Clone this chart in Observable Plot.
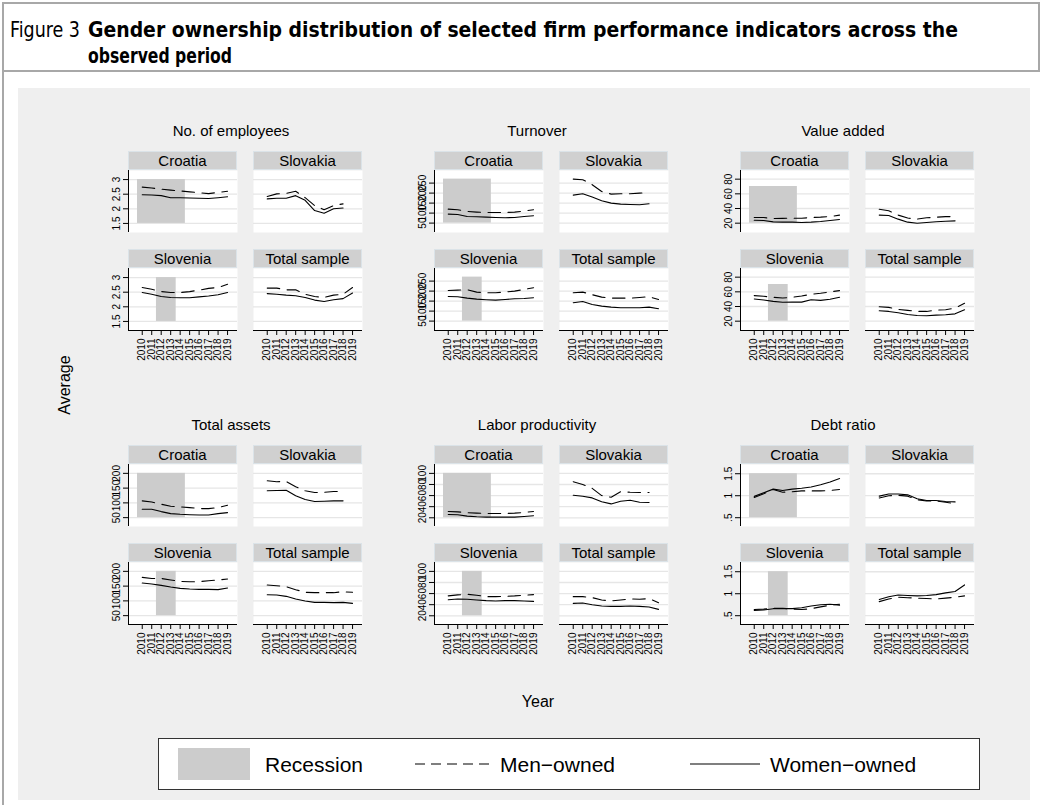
<!DOCTYPE html>
<html>
<head>
<meta charset="utf-8">
<script src="https://cdn.jsdelivr.net/npm/d3@7"></script>
<script src="https://cdn.jsdelivr.net/npm/@observablehq/plot@0.6"></script>
<style>
  body { margin: 0; background: #ffffff; }
  #page { position: relative; width: 1042px; height: 805px; overflow: hidden; background: #ffffff;
          font-family: "Liberation Sans", Arial, sans-serif; color: #000; }
  .abs { position: absolute; }
  .strip { position: absolute; box-sizing: border-box; background: #d0d0d0; border: 1px solid #dbe3e8;
           font-size: 15px; line-height: 17px; text-align: center; color: #000; white-space: nowrap; }
  .gtitle { position: absolute; font-size: 15px; white-space: nowrap; transform: translate(-50%, -50%); }
</style>
</head>
<body>
<div id="page"></div>
<script>
// ---------------- DATA ----------------
const years = [2010, 2011, 2012, 2013, 2014, 2015, 2016, 2017, 2018, 2019];
const countries = ["Croatia", "Slovakia", "Slovenia", "Total sample"];
const indicators = ["No. of employees", "Turnover", "Value added", "Total assets", "Labor productivity", "Debt ratio"];

// values per country (Croatia, Slovakia, Slovenia, Total sample)
const employeesMen = [
  [2.74, 2.71, 2.67, 2.64, 2.61, 2.58, 2.55, 2.52, 2.56, 2.60],
  [2.42, 2.51, 2.53, 2.60, 2.38, 2.11, 1.97, 2.11, 2.17],
  [2.66, 2.60, 2.52, 2.49, 2.49, 2.52, 2.57, 2.63, 2.66, 2.77],
  [2.64, 2.64, 2.58, 2.58, 2.43, 2.35, 2.32, 2.40, 2.43, 2.66]];
const employeesWomen = [
  [2.48, 2.47, 2.45, 2.38, 2.38, 2.37, 2.36, 2.35, 2.38, 2.41],
  [2.34, 2.36, 2.36, 2.45, 2.29, 1.94, 1.85, 2.00, 2.03],
  [2.49, 2.43, 2.35, 2.32, 2.31, 2.31, 2.34, 2.37, 2.41, 2.49],
  [2.45, 2.43, 2.40, 2.38, 2.32, 2.23, 2.18, 2.24, 2.28, 2.47]];

const turnoverMen = [
  [120, 117, 108, 105, 103, 103, 103, 105, 110, 117],
  [270, 267, 242, 208, 195, 197, 197, 200, 203],
  [203, 205, 207, 195, 192, 192, 195, 200, 208, 217],
  [192, 195, 182, 170, 165, 165, 165, 168, 172, 158]];
const turnoverWomen = [
  [95, 93, 83, 82, 80, 78, 77, 78, 83, 87],
  [190, 197, 180, 162, 150, 145, 143, 142, 147],
  [173, 172, 165, 160, 157, 155, 158, 162, 163, 167],
  [142, 148, 133, 125, 120, 117, 117, 117, 120, 112]];

const valueAddedMen = [
  [27.7, 27.7, 26.4, 26.6, 26.8, 26.8, 27.7, 28.2, 29, 31],
  [39, 37, 31, 27, 25.5, 27.3, 28.2, 29, 29],
  [54.8, 53.9, 52.5, 51.6, 52.5, 54.4, 56.7, 58, 60, 61.7],
  [39.7, 38.8, 36, 34.7, 33.3, 33.3, 35, 35.6, 37.9, 44.3]];
const valueAddedWomen = [
  [24, 23.6, 21.8, 21.4, 21.4, 20.9, 21.4, 22.3, 23.6, 25],
  [31, 30.5, 25.5, 21.4, 20, 21, 22, 22.7, 23.2],
  [50.3, 48.9, 47, 45.7, 46, 46, 49.3, 48.4, 49.8, 52.5],
  [34.2, 33.3, 31.5, 29.2, 27.8, 27.4, 28.3, 28.7, 30, 35.6]];

const assetsMen = [
  [106.8, 103, 95.5, 88.6, 86.4, 84, 80.7, 80.7, 84, 92],
  [175, 171.6, 172.7, 154.5, 141, 135, 136, 138.6, 138.6],
  [179.7, 176, 176, 170.7, 166, 165, 165, 168.4, 170.7, 174],
  [153.7, 151.5, 148, 138, 129, 127.8, 127.8, 127.8, 131, 129]];
const assetsWomen = [
  [78.4, 78.4, 70.5, 63.6, 61.4, 60, 59, 59, 63.6, 67],
  [141, 142, 143, 124, 111.4, 104.5, 105.7, 106.8, 106.8],
  [160.5, 157, 152.6, 147, 142.4, 140, 139, 139, 138, 143.6],
  [121, 120, 115.4, 106.3, 99.5, 95, 95, 94, 95, 91.6]];

const laborMen = [
  [31.3, 30.7, 29, 28.4, 27.8, 27.8, 27.8, 28.4, 29.6, 31.3],
  [85, 80, 73, 60, 57, 67, 66, 65.5, 65.5],
  [55.8, 57.6, 58.8, 57, 54.5, 54.5, 55, 55.8, 57, 58.2],
  [54.5, 54.5, 52.7, 48.5, 46.7, 48.5, 50.3, 49.7, 51, 43.6]];
const laborWomen = [
  [26, 25.4, 23, 21.8, 21.2, 21.2, 21.2, 21.2, 22.4, 23.6],
  [60.6, 58.8, 55.8, 49, 45, 49.8, 51.6, 48, 47.5],
  [49, 50.3, 49.7, 48.5, 47.3, 46.7, 47.3, 47.3, 46.7, 46],
  [42.4, 43, 40, 37.6, 37, 37, 37.6, 37, 35.8, 31.5]];

const debtMen = [
  [0.96, 1.045, 1.14, 1.08, 1.09, 1.11, 1.11, 1.11, 1.12, 1.14],
  [0.95, 1.0, 1.01, 0.99, 0.91, 0.88, 0.88, 0.85, 0.82],
  [0.64, 0.65, 0.67, 0.67, 0.65, 0.64, 0.66, 0.70, 0.74, 0.76],
  [0.82, 0.88, 0.92, 0.91, 0.90, 0.89, 0.88, 0.90, 0.92, 0.95]];
const debtWomen = [
  [0.985, 1.07, 1.15, 1.12, 1.15, 1.17, 1.20, 1.25, 1.31, 1.39],
  [0.99, 1.04, 1.04, 1.02, 0.93, 0.89, 0.89, 0.87, 0.86],
  [0.62, 0.63, 0.66, 0.66, 0.66, 0.68, 0.72, 0.75, 0.76, 0.74],
  [0.87, 0.93, 0.97, 0.96, 0.95, 0.96, 0.98, 1.02, 1.05, 1.20]];

// y tick values and labels per indicator
const employeesTicks = [1.5, 2, 2.5, 3];
const employeesLabels = ["1.5", "2", "2.5", "3"];
const turnoverTicks = [50, 100, 150, 200, 250];
const turnoverLabels = ["50", "100", "150", "200", "250"];
const valueAddedTicks = [20, 40, 60, 80];
const valueAddedLabels = ["20", "40", "60", "80"];
const assetsTicks = [50, 100, 150, 200];
const assetsLabels = ["50", "100", "150", "200"];
const laborTicks = [20, 40, 60, 80, 100];
const laborLabels = ["20", "40", "60", "80", "100"];
const debtTicks = [0.5, 1, 1.5];
const debtLabels = [".5", "1", "1.5"];

// y-axis ranges per indicator
const employeesRange = [1.19, 3.31];
const turnoverRange = [3, 313];
const valueAddedRange = [7.3, 91.8];
const assetsRange = [20, 230];
const laborRange = [4.3, 116];
const debtRange = [0.30, 1.71];

// recession shading: years per country (Croatia, Slovakia, Slovenia, Total sample)
const recessionStart = [2009.5, null, 2011.5, null];
const recessionEnd = [2014.55, null, 2013.58, null];
// recession shading heights per indicator
const employeesRecession = [1.5, 3];
const turnoverRecession = [50, 270];
const valueAddedRecession = [20, 70];
const assetsRecession = [50, 200];
const laborRecession = [20, 100];
const debtRecession = [0.5, 1.5];

const legendLabels = ["Recession", "Men\u2212owned", "Women\u2212owned"];

// ---------------- LAYOUT ----------------
const page = document.getElementById("page");
const groups = [
  {men: employeesMen, women: employeesWomen, ticks: employeesTicks, labels: employeesLabels, range: employeesRange, rec: employeesRecession},
  {men: turnoverMen, women: turnoverWomen, ticks: turnoverTicks, labels: turnoverLabels, range: turnoverRange, rec: turnoverRecession},
  {men: valueAddedMen, women: valueAddedWomen, ticks: valueAddedTicks, labels: valueAddedLabels, range: valueAddedRange, rec: valueAddedRecession},
  {men: assetsMen, women: assetsWomen, ticks: assetsTicks, labels: assetsLabels, range: assetsRange, rec: assetsRecession},
  {men: laborMen, women: laborWomen, ticks: laborTicks, labels: laborLabels, range: laborRange, rec: laborRecession},
  {men: debtMen, women: debtWomen, ticks: debtTicks, labels: debtLabels, range: debtRange, rec: debtRecession}
];

function el(tag, cls, css, html) {
  const e = document.createElement(tag);
  if (cls) e.className = cls;
  if (css) Object.assign(e.style, css);
  if (html != null) e.innerHTML = html;
  page.appendChild(e);
  return e;
}

// header frame
el("div", "abs", {left: "2px", top: "2px", width: "1038px", height: "70px", boxSizing: "border-box", border: "2px solid #a8a8a8"});
el("div", "abs", {left: "2px", top: "70px", width: "2px", height: "740px", background: "#a8a8a8"});
// chart background
el("div", "abs", {left: "18px", top: "88px", width: "1012px", height: "712px", background: "#efefef"});

// header title (SVG text so widths can be matched)
const hdr = `<svg width="1042" height="72" style="position:absolute;left:0;top:0">
  <g font-family="'Liberation Sans Narrow','DejaVu Sans Condensed','Liberation Sans',Arial,sans-serif" font-size="22" fill="#000">
    <text x="10" y="37" textLength="70" lengthAdjust="spacingAndGlyphs">Figure 3</text>
    <text x="88" y="37" font-weight="bold" textLength="870" lengthAdjust="spacingAndGlyphs">Gender ownership distribution of selected firm performance indicators across the</text>
    <text x="88" y="63" font-weight="bold" textLength="144" lengthAdjust="spacingAndGlyphs">observed period</text>
  </g></svg>`;
el("div", "abs", {left: "0px", top: "0px"}, hdr);

const xDomain = [2008.55, 2020.05];
const PW = 109, PH = 62, STRIP = 19;

groups.forEach((g, gi) => {
  const c = gi % 3, r = Math.floor(gi / 3);
  const X0 = 128 + 306 * c, Y0 = 151 + 294 * r;
  const t = el("div", "gtitle", {left: (X0 + 103) + "px", top: (Y0 - 21) + "px"});
  t.textContent = indicators[gi];

  countries.forEach((country, k) => {
    const j = k % 2, i = Math.floor(k / 2);
    const left = X0 + j * 125, stripTop = Y0 + i * 98, plotTop = stripTop + STRIP;
    const s = el("div", "strip", {left: left + "px", top: stripTop + "px", width: PW + "px", height: STRIP + "px"});
    s.textContent = country;

    const mL = j === 0 ? 45 : 0;
    const mB = i === 1 ? 45 : 0;
    const rows = years.map((yr, idx) => ({year: yr, men: g.men[k][idx], women: g.women[k][idx]}))
      .filter(d => d.men != null && d.women != null);

    const marks = [
      Plot.frame({fill: "white", stroke: "none"}),
      Plot.gridY(g.ticks, {stroke: "#e6e6e6", strokeOpacity: 1, strokeWidth: 1.3})
    ];
    if (recessionStart[k] != null) {
      marks.push(Plot.rect([{x1: recessionStart[k], x2: recessionEnd[k], y1: g.rec[0], y2: g.rec[1]}],
        {x1: "x1", x2: "x2", y1: "y1", y2: "y2", fill: "#cccccc"}));
    }
    marks.push(Plot.line(rows, {x: "year", y: "women", stroke: "black", strokeWidth: 1.1}));
    marks.push(Plot.line(rows, {x: "year", y: "men", stroke: "black", strokeWidth: 1.1, strokeDasharray: "12.5,7.5"}));
    if (j === 0) {
      marks.push(Plot.axisY(g.ticks, {tickFormat: d => g.labels[g.ticks.indexOf(d)], tickRotate: -90, tickSize: 5, tickPadding: 4, fontSize: 10, label: null}));
      marks.push(Plot.ruleX([xDomain[0]], {stroke: "black", strokeWidth: 1}));
    }
    if (i === 1) {
      marks.push(Plot.axisX(years, {tickFormat: d => String(d), tickRotate: -90, tickSize: 5, tickPadding: 3, fontSize: 10, label: null}));
      marks.push(Plot.ruleY([g.range[0]], {stroke: "black", strokeWidth: 1}));
    }
    const chart = Plot.plot({
      width: PW + mL, height: PH + mB,
      marginLeft: mL, marginRight: 0, marginTop: 0, marginBottom: mB,
      x: {domain: xDomain, axis: i === 1 ? undefined : null, label: null},
      y: {domain: g.range, axis: j === 0 ? undefined : null, label: null},
      marks,
      style: {background: "transparent", overflow: "visible", fontFamily: "'Liberation Sans', Arial, sans-serif", fontSize: "10px", color: "black"}
    });
    chart.style.position = "absolute";
    chart.style.left = (left - mL) + "px";
    chart.style.top = plotTop + "px";
    page.appendChild(chart);
  });
});

// axis titles
el("div", "abs", {left: "65px", top: "385px", fontSize: "16px", transform: "translate(-50%,-50%) rotate(-90deg)", whiteSpace: "nowrap"}, "Average");
el("div", "abs", {left: "538px", top: "702px", fontSize: "16px", transform: "translate(-50%,-50%)", whiteSpace: "nowrap"}, "Year");

// legend
const lg = `<svg width="822" height="52" style="position:absolute;left:158px;top:738px;overflow:visible">
  <rect x="0.5" y="0.5" width="821" height="51" fill="white" stroke="#333" stroke-width="1"/>
  <rect x="20" y="10" width="72" height="32" fill="#cccccc"/>
  <text x="107" y="34" font-size="21" font-family="'Liberation Sans',Arial,sans-serif">${legendLabels[0]}</text>
  <line x1="257" x2="332" y1="26" y2="26" stroke="black" stroke-width="1.2" stroke-dasharray="10,6"/>
  <text x="342" y="34" font-size="21" font-family="'Liberation Sans',Arial,sans-serif">${legendLabels[1]}</text>
  <line x1="532" x2="602" y1="26" y2="26" stroke="black" stroke-width="1.2"/>
  <text x="612" y="34" font-size="21" font-family="'Liberation Sans',Arial,sans-serif">${legendLabels[2]}</text>
</svg>`;
el("div", "abs", {left: "0px", top: "0px"}, lg);
</script>
</body>
</html>
